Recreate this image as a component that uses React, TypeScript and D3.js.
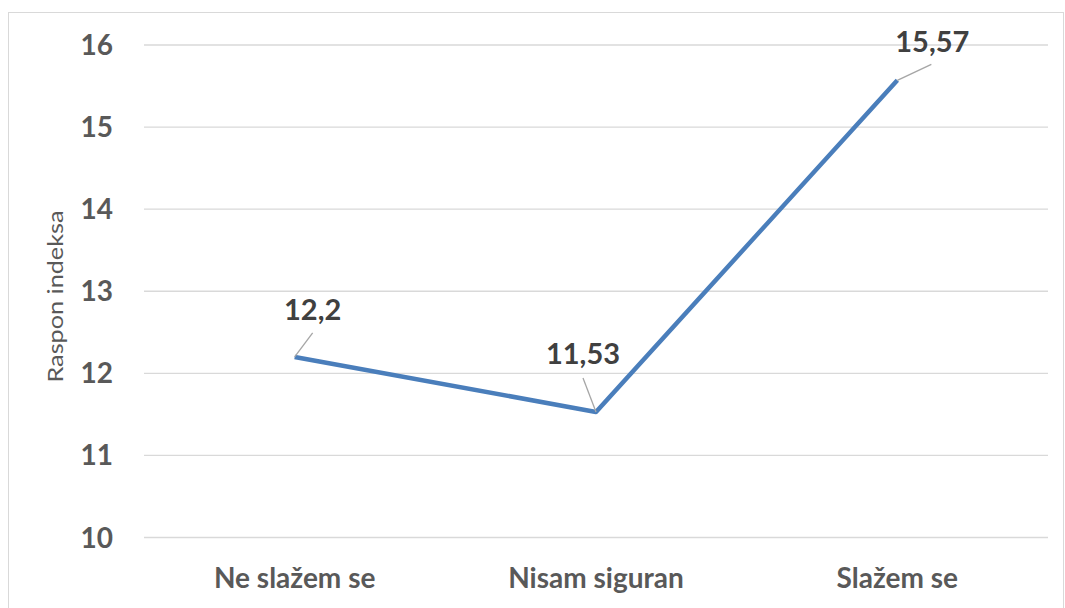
import React from "react";
import * as d3 from "d3";

const categories = ["Ne slažem se", "Nisam siguran", "Slažem se"];
const values = [12.2, 11.53, 15.57];
const valueLabels = ["12,2", "11,53", "15,57"];
const yTicks = [10, 11, 12, 13, 14, 15, 16];
const yTitle = "Raspon indeksa";

// label offsets (layout only)
const labelOffsets = [
  { dx: 18, dy: -37, lx: 18, ly: -24 },
  { dx: -13, dy: -48, lx: -13, ly: -34 },
  { dx: 35, dy: -28, lx: 34, ly: -16 },
];

export default function App() {
  const W = 1065;
  const H = 608;
  const left = 144;
  const right = 1048;
  const x = d3.scaleBand<string>().domain(categories).range([left, right]);
  const y = d3.scaleLinear().domain([10, 16]).range([537.5, 45]);
  const line = d3
    .line<number>()
    .x((_, i) => (x(categories[i]) as number) + x.bandwidth() / 2)
    .y((d) => y(d));
  const font = "Lato, 'Open Sans', sans-serif";
  return (
    <svg width={W} height={H} style={{ position: "absolute", left: 0, top: 0 }}>
      <rect x={0} y={0} width={W} height={H} fill="#fff" />
      <rect x={8.5} y={12.5} width={1055} height={610} fill="none" stroke="#d9d9d9" strokeWidth={1} />
      {yTicks.map((t) => (
        <g key={t}>
          <line x1={left} x2={right} y1={y(t)} y2={y(t)} stroke="#d9d9d9" strokeWidth={1.3} />
          <text
            x={113}
            y={y(t)}
            dy="0.36em"
            textAnchor="end"
            fontFamily={font}
            fontWeight={700}
            fontSize={28}
            fill="#595959"
          >
            {t}
          </text>
        </g>
      ))}
      <text
        transform={`translate(63,296.5) rotate(-90)`}
        textAnchor="middle"
        fontFamily={font}
        fontSize={22}
        textLength={172}
        lengthAdjust="spacingAndGlyphs"
        fill="#595959"
      >
        {yTitle}
      </text>
      {categories.map((c) => (
        <text
          key={c}
          x={(x(c) as number) + x.bandwidth() / 2}
          y={588}
          textAnchor="middle"
          fontFamily={font}
          fontWeight={700}
          fontSize={28}
          fill="#595959"
        >
          {c}
        </text>
      ))}
      <path d={line(values) || ""} fill="none" stroke="#4a7ebb" strokeWidth={4.5} strokeLinejoin="round" />
      {values.map((v, i) => {
        const cx = (x(categories[i]) as number) + x.bandwidth() / 2;
        const cy = y(v);
        const o = labelOffsets[i];
        return (
          <g key={i}>
            <line x1={cx} y1={cy} x2={cx + o.lx} y2={cy + o.ly} stroke="#a6a6a6" strokeWidth={1.3} />
            <text
              x={cx + o.dx}
              y={cy + o.dy}
              textAnchor="middle"
              fontFamily={font}
              fontWeight={700}
              fontSize={29}
              fill="#404040"
            >
              {valueLabels[i]}
            </text>
          </g>
        );
      })}
    </svg>
  );
}
